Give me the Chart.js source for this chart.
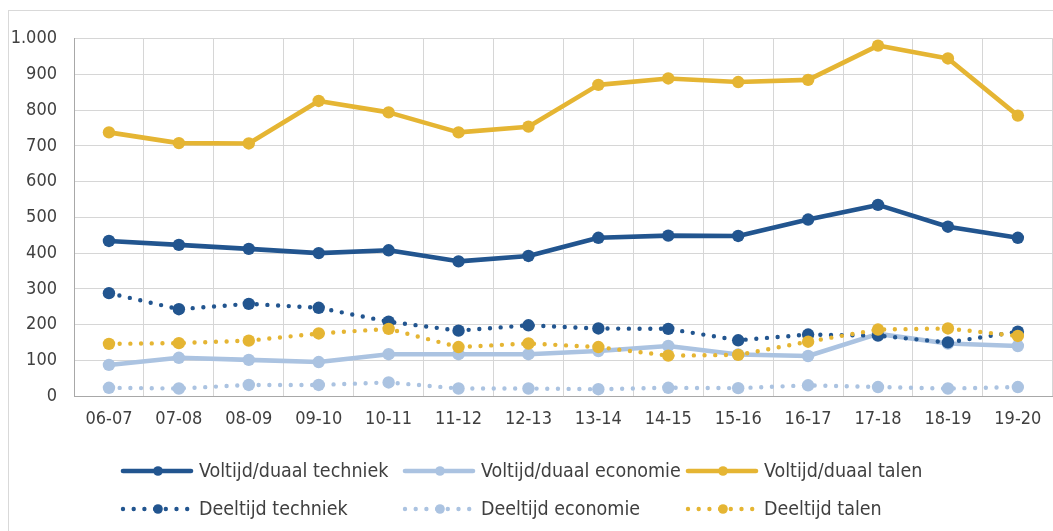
<!DOCTYPE html>
<html>
<head>
<meta charset="utf-8">
<script src="https://cdn.jsdelivr.net/npm/chart.js@4/dist/chart.umd.min.js"></script>
<style>
  html, body { margin: 0; padding: 0; background: #fff; overflow: hidden; }
  body { width: 1053px; height: 531px; position: relative; }
  #frame {
    position: absolute; left: 8px; top: 10px;
    width: 1050px; height: 530px;
    border: 1px solid #d9d9d9; box-sizing: content-box;
  }
</style>
</head>
<body>
<div id="frame"><canvas id="chart"></canvas></div>
<script>
'use strict';

// ─── Data ────────────────────────────────────────────────────────────────────

const categories = ['06-07', '07-08', '08-09', '09-10', '10-11', '11-12', '12-13',
                    '13-14', '14-15', '15-16', '16-17', '17-18', '18-19', '19-20'];

const voltijdTechniek  = [434, 423, 412, 400, 408, 377, 392, 443, 449, 448, 494, 535, 474, 443];
const voltijdEconomie  = [ 87, 107, 101,  95, 117, 117, 117, 126, 140, 116, 112, 174, 147, 140];
const voltijdTalen     = [738, 708, 707, 826, 794, 738, 754, 871, 889, 879, 885, 981, 945, 785];
const deeltijdTechniek = [288, 243, 258, 247, 208, 183, 198, 189, 188, 156, 172, 169, 150, 180];
const deeltijdEconomie = [ 23,  21,  31,  31,  38,  21,  21,  19,  23,  22,  30,  25,  21,  25];
const deeltijdTalen    = [146, 148, 155, 175, 188, 137, 147, 137, 113, 115, 152, 186, 189, 168];

const seriesLabels = [
  'Voltijd/duaal techniek', 'Voltijd/duaal economie', 'Voltijd/duaal talen',
  'Deeltijd techniek', 'Deeltijd economie', 'Deeltijd talen',
];

const yTicks = { min: 0, max: 1000, step: 100 };

// ─── Styling ─────────────────────────────────────────────────────────────────

const COLORS = { techniek: '#22558f', economie: '#abc3e1', talen: '#e5b533' };
const FONT = "'DejaVu Sans Condensed', 'DejaVu Sans', sans-serif";
const TEXT = '#404040';
const GRID = '#d6d6d6';
const AXIS = '#a8a8a8';
const DOT_DASH = [0, 10.7];

Chart.defaults.font.family = FONT;
Chart.defaults.font.size = 18;
Chart.defaults.color = TEXT;

function series(label, data, color, dotted, order) {
  return {
    label, data, order,
    borderColor: color,
    backgroundColor: color,
    borderWidth: dotted ? 4.4 : 4.6,
    borderDash: dotted ? DOT_DASH : [],
    borderCapStyle: 'round',
    borderJoinStyle: 'round',
    pointRadius: 6.2,
    pointBorderWidth: 0,
    pointBackgroundColor: color,
    tension: 0,
    fill: false,
  };
}

// thousands separator as a dot: 1000 -> 1.000
function fmt(v) {
  return String(v).replace(/\B(?=(\d{3})+(?!\d))/g, '.');
}

// ─── Legend: three aligned columns, two rows ─────────────────────────────────

const gridLegend = {
  id: 'gridLegend',
  afterDraw(chart) {
    const ctx = chart.ctx;
    const colX = [113, 395, 678];
    const rowY = [460, 498];
    const sampleW = 71;
    chart.data.datasets.forEach((ds, i) => {
      const x0 = colX[i % 3];
      const y = rowY[Math.floor(i / 3)];
      ctx.save();
      ctx.strokeStyle = ds.borderColor;
      ctx.lineWidth = ds.borderWidth;
      ctx.lineCap = 'round';
      ctx.setLineDash(ds.borderDash);
      ctx.beginPath();
      ctx.moveTo(x0 + 1, y);
      ctx.lineTo(x0 + sampleW - 2, y);
      ctx.stroke();
      ctx.setLineDash([]);
      ctx.fillStyle = ds.pointBackgroundColor;
      ctx.beginPath();
      ctx.arc(x0 + 36, y, 4.8, 0, Math.PI * 2);
      ctx.fill();
      ctx.fillStyle = TEXT;
      ctx.font = '19.5px ' + FONT;
      ctx.textBaseline = 'middle';
      ctx.textAlign = 'left';
      ctx.fillText(ds.label, x0 + 77, y + 1);
      ctx.restore();
    });
  },
};

// ─── Chart ───────────────────────────────────────────────────────────────────

const ctx = document.getElementById('chart').getContext('2d');
new Chart(ctx, {
  type: 'line',
  data: {
    labels: categories,
    datasets: [
      series(seriesLabels[0], voltijdTechniek,  COLORS.techniek, false, 6),
      series(seriesLabels[1], voltijdEconomie,  COLORS.economie, false, 5),
      series(seriesLabels[2], voltijdTalen,     COLORS.talen,    false, 4),
      series(seriesLabels[3], deeltijdTechniek, COLORS.techniek, true,  3),
      series(seriesLabels[4], deeltijdEconomie, COLORS.economie, true,  2),
      series(seriesLabels[5], deeltijdTalen,    COLORS.talen,    true,  1),
    ],
  },
  options: {
    responsive: true, maintainAspectRatio: false,
    animation: false,
    layout: { padding: { top: 21, right: 3, bottom: 105, left: 0 } },
    plugins: {
      legend: { display: false },
      tooltip: { enabled: false },
    },
    scales: {
      x: {
        type: 'category',
        offset: true,
        grid: { color: GRID, offset: true, drawTicks: false, lineWidth: 1 },
        border: { color: AXIS, width: 1 },
        ticks: { padding: 13, maxRotation: 0, autoSkip: false, color: TEXT },
        afterFit(s) { s.height = 40; },
      },
      y: {
        min: yTicks.min, max: yTicks.max,
        grid: { color: GRID, drawTicks: false, lineWidth: 1 },
        border: { color: AXIS, width: 1 },
        ticks: { stepSize: yTicks.step, padding: 17, color: TEXT, callback: v => fmt(v) },
        afterFit(s) { s.width = 65; },
      },
    },
  },
  plugins: [gridLegend],
});
</script>
</body>
</html>
